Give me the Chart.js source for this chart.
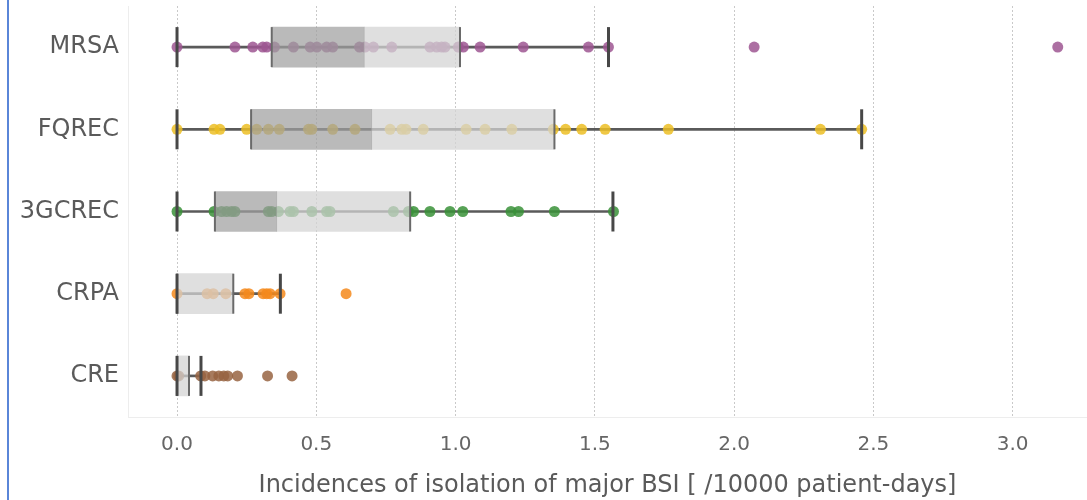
<!DOCTYPE html>
<html>
<head>
<meta charset="utf-8">
<script src="https://cdn.jsdelivr.net/npm/chart.js@4"></script>
<style>
  html, body { margin: 0; padding: 0; background: #ffffff; }
  #wrap { position: relative; width: 1087px; height: 500px; }
  #edge { position: absolute; left: 7px; top: 0; width: 2px; height: 500px; background: #5a86d8; }
</style>
</head>
<body>
<div id="wrap">
  <canvas id="chart" width="1087" height="500"></canvas>
  <div id="edge"></div>
</div>
<script>
// categories, top to bottom
const categories = ['MRSA', 'FQREC', '3GCREC', 'CRPA', 'CRE'];

// box statistics per category
const whiskerLow  = [0, 0, 0, 0, 0];
const quartile1   = [0.34, 0.266, 0.136, 0, 0];
const medians     = [0.672, 0.699, 0.358, 0, 0];
const quartile3   = [1.016, 1.355, 0.837, 0.202, 0.043];
const whiskerHigh = [1.549, 2.458, 1.565, 0.371, 0.086];

// individual incidences (/10000 patient-days)
const mrsaValues = [0, 0.208, 0.272, 0.308, 0.322, 0.35, 0.418, 0.478, 0.502, 0.537, 0.559,
  0.655, 0.675, 0.705, 0.771, 0.908, 0.932, 0.95, 0.962, 1.01, 1.028, 1.088, 1.243,
  1.477, 1.549, 2.072, 3.162];
const fqrecValues = [0, 0.133, 0.154, 0.25, 0.286, 0.328, 0.367, 0.472, 0.484, 0.559, 0.639,
  0.765, 0.807, 0.822, 0.884, 1.038, 1.106, 1.202, 1.351, 1.395, 1.453, 1.537, 1.764,
  2.31, 2.458];
const gcrecValues = [0, 0.133, 0.16, 0.178, 0.196, 0.208, 0.328, 0.34, 0.364, 0.406, 0.418,
  0.484, 0.537, 0.549, 0.777, 0.831, 0.849, 0.908, 0.98, 1.026, 1.199, 1.226, 1.355, 1.567];
const crpaValues = [0, 0.108, 0.13, 0.175, 0.244, 0.258, 0.309, 0.322, 0.334, 0.37, 0.607];
const creValues = [0, 0.006, 0.085, 0.1, 0.128, 0.15, 0.168, 0.182, 0.217, 0.325, 0.413];

const tickValues = [0, 0.5, 1, 1.5, 2, 2.5, 3];
const tickLabels = ['0.0', '0.5', '1.0', '1.5', '2.0', '2.5', '3.0'];

const pointSets = [mrsaValues, fqrecValues, gcrecValues, crpaValues, creValues];
const pointColors = ['rgba(158,86,146,0.85)', 'rgba(236,190,36,0.85)', 'rgba(58,146,56,0.85)',
  'rgba(244,138,28,0.85)', 'rgba(152,100,66,0.85)'];

const font = '"DejaVu Sans", sans-serif';

// points on the category axis
const pointDatasets = pointSets.map((vals, i) => ({
  type: 'scatter',
  order: 4,
  data: vals.map(v => ({ x: v, y: categories[i] })),
  backgroundColor: pointColors[i],
  borderWidth: 0,
  pointRadius: 5.5
}));

const capPoints = [];
const edgePoints = [];
categories.forEach((c, i) => {
  capPoints.push({ x: whiskerLow[i], y: c }, { x: whiskerHigh[i], y: c });
  edgePoints.push({ x: quartile1[i], y: c }, { x: quartile3[i], y: c });
});

const datasets = [
  {
    type: 'scatter', order: 0, data: capPoints,
    pointStyle: 'line', rotation: 90, pointRadius: 20,
    borderColor: '#474747', borderWidth: 3
  },
  {
    type: 'scatter', order: 1, data: edgePoints,
    pointStyle: 'line', rotation: 90, pointRadius: 20,
    borderColor: '#6a6a6a', borderWidth: 2
  },
  {
    type: 'bar', order: 2, indexAxis: 'y', grouped: false, barThickness: 40,
    data: categories.map((c, i) => [quartile1[i], medians[i]]),
    backgroundColor: 'rgba(160,160,160,0.72)'
  },
  {
    type: 'bar', order: 3, indexAxis: 'y', grouped: false, barThickness: 40,
    data: categories.map((c, i) => [medians[i], quartile3[i]]),
    backgroundColor: 'rgba(212,212,212,0.74)'
  },
  ...pointDatasets,
  {
    type: 'bar', order: 5, indexAxis: 'y', grouped: false, barThickness: 2,
    data: categories.map((c, i) => [whiskerLow[i], whiskerHigh[i]]),
    backgroundColor: '#5a5a5a'
  }
];

new Chart(document.getElementById('chart'), {
  type: 'bar',
  data: { labels: categories, datasets: datasets },
  options: {
    responsive: false,
    animation: false,
    layout: { autoPadding: false, padding: { top: 6, right: 0, left: 0, bottom: 0 } },
    plugins: { legend: { display: false }, tooltip: { enabled: false } },
    scales: {
      x: {
        type: 'linear',
        offset: false,
        min: -0.176,
        max: 3.267,
        afterBuildTicks: scale => { scale.ticks = tickValues.map(v => ({ value: v })); },
        afterFit: scale => {
          scale.height = 83;
          scale.paddingLeft = 0;
          scale.paddingRight = 0;
        },
        ticks: {
          callback: (v, idx) => tickLabels[idx],
          color: '#666666',
          font: { family: font, size: 20 },
          padding: 16,
          maxRotation: 0
        },
        grid: { color: '#c9c9c9', drawTicks: false, lineWidth: 1, offset: false },
        border: { display: true, color: '#ededed', dash: [2, 2] },
        title: {
          display: true,
          text: 'Incidences of isolation of major BSI [ /10000 patient-days]',
          color: '#5a5a5a',
          font: { family: font, size: 24 },
          padding: { top: 0, bottom: 0 }
        }
      },
      y: {
        type: 'category',
        labels: categories,
        offset: true,
        afterFit: scale => {
          scale.width = 128;
          scale.paddingTop = 0;
          scale.paddingBottom = 0;
        },
        ticks: {
          color: '#5a5a5a',
          font: { family: font, size: 24 },
          padding: 9
        },
        grid: { display: false, drawTicks: false, offset: true },
        border: { display: true, color: '#ededed' }
      }
    }
  }
});
</script>
</body>
</html>
